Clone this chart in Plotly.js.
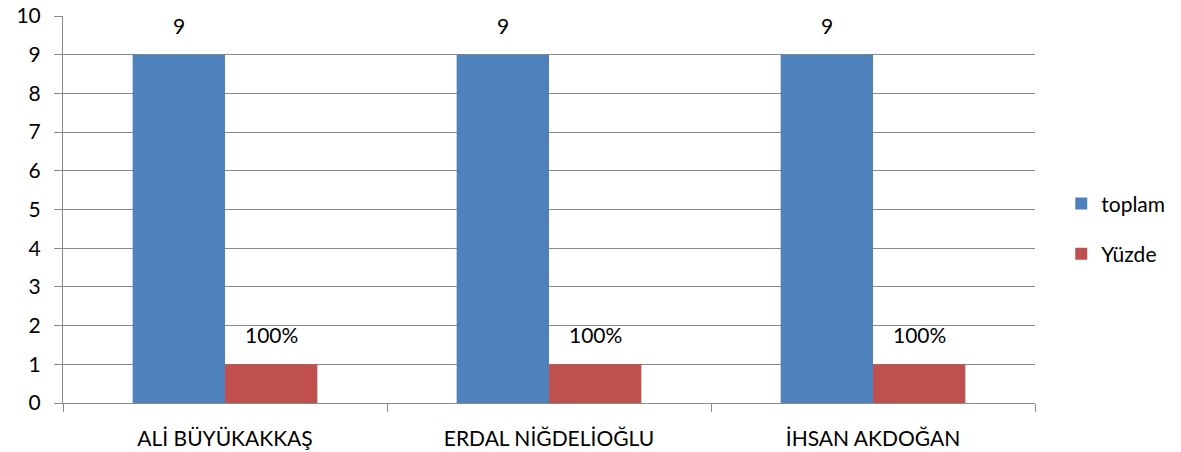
<!DOCTYPE html>
<html>
<head>
<meta charset="utf-8">
<script src="https://cdn.plot.ly/plotly-3.0.1.min.js"></script>
<style>html,body{margin:0;padding:0;background:#fff;}#chart{width:1181px;height:452px;}</style>
</head>
<body>
<div id="chart"></div>
<script>
const categories = ["ALİ BÜYÜKAKKAŞ", "ERDAL NİĞDELİOĞLU", "İHSAN AKDOĞAN"];
const toplam = [9, 9, 9];
const yuzde = [1, 1, 1];
const yuzdeLabels = ["100%", "100%", "100%"];
const toplamLabels = ["9", "9", "9"];
const yTicks = [0,1,2,3,4,5,6,7,8,9,10];

const FONT = "Lato, 'Open Sans', sans-serif";
const GRID = "#8a8a8a";
const FS = 21;

const traces = [
  {type: "bar", name: "toplam", x: categories, y: toplam, marker: {color: "#4F81BD"}, legendgroup: "a"},
  {type: "bar", name: "Yüzde", x: categories, y: yuzde, marker: {color: "#C0504D"}, legendgroup: "b"}
];

const annotations = [];
categories.forEach((c, i) => {
  annotations.push({x: c, y: toplam[i], xref: "x", yref: "y", text: toplamLabels[i], showarrow: false,
    yanchor: "bottom", yshift: 15, xshift: -46, font: {family: FONT, size: FS, color: "#000"}});
  annotations.push({x: c, y: yuzde[i], xref: "x", yref: "y", text: yuzdeLabels[i], showarrow: false,
    yanchor: "bottom", yshift: 15, xshift: 46, font: {family: FONT, size: FS, color: "#000"}});
});

const layout = {
  width: 1181, height: 452,
  margin: {l: 63, r: 146, t: 16, b: 49, autoexpand: false},
  paper_bgcolor: "#fff", plot_bgcolor: "#fff",
  barmode: "group", bargap: 0.43, bargroupgap: 0,
  font: {family: FONT, size: FS, color: "#000"},
  xaxis: {
    type: "category", showgrid: false, showline: true, linecolor: GRID, linewidth: 1,
    ticks: "outside", tickson: "boundaries", ticklen: 8, tickcolor: GRID,
    ticklabelstandoff: 17, tickfont: {family: FONT, size: FS, color: "#000"}, zeroline: false
  },
  yaxis: {
    range: [0, 10], tickvals: yTicks, showgrid: true, gridcolor: GRID, gridwidth: 1,
    showline: true, linecolor: GRID, linewidth: 1, ticks: "outside", ticklen: 8, tickcolor: GRID,
    ticklabelstandoff: 9, tickfont: {family: FONT, size: FS, color: "#000"}, zeroline: false
  },
  legend: {x: 1.027, xanchor: "left", y: 0.45, yanchor: "middle", tracegroupgap: 20,
    font: {family: FONT, size: FS, color: "#000"}, bgcolor: "rgba(0,0,0,0)"},
  annotations: annotations,
  showlegend: true
};

Plotly.newPlot("chart", traces, layout, {displayModeBar: false, staticPlot: true});
</script>
</body>
</html>
